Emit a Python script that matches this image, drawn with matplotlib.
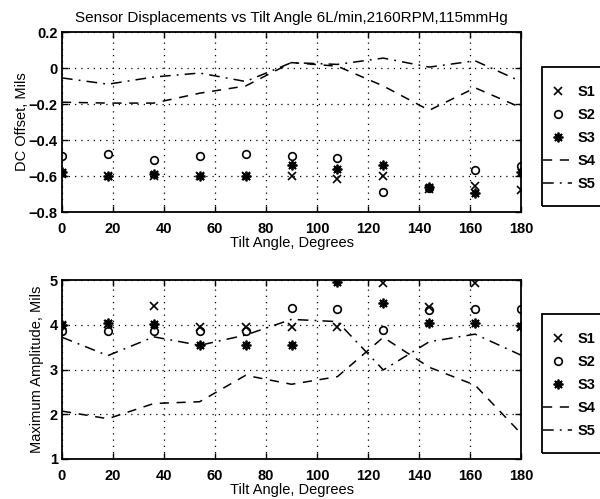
import matplotlib
matplotlib.use('Agg')
import matplotlib.pyplot as plt
from matplotlib.lines import Line2D
from matplotlib.patches import Rectangle

plt.rcParams['font.family'] = ['Liberation Sans', 'DejaVu Sans']

# tilt angles, degrees
angles = [0, 18, 36, 54, 72, 90, 108, 126, 144, 162, 180]

# DC offset, mils
dc_s1 = [-0.59, -0.60, -0.60, -0.60, -0.60, -0.60, -0.617, -0.598, -0.67, -0.655, -0.68]
dc_s2 = [-0.487, -0.48, -0.51, -0.49, -0.48, -0.49, -0.50, -0.687, -0.665, -0.565, -0.545]
dc_s3 = [-0.58, -0.60, -0.59, -0.60, -0.60, -0.54, -0.56, -0.537, -0.66, -0.695, -0.58]
dc_s4 = [-0.19, -0.195, -0.195, -0.14, -0.10, 0.03, 0.01, -0.10, -0.235, -0.11, -0.22]
dc_s5 = [-0.055, -0.09, -0.05, -0.028, -0.075, 0.03, 0.02, 0.055, 0.005, 0.04, -0.075]

# maximum amplitude, mils
amp_s1 = [4.0, 4.02, 4.43, 3.94, 3.95, 3.95, 3.95, 4.93, 4.4, 4.93, 3.95]
amp_s2 = [3.87, 3.87, 3.87, 3.86, 3.87, 4.37, 4.35, 3.88, 4.34, 4.35, 4.35]
amp_s3 = [4.0, 4.03, 4.02, 3.54, 3.54, 3.54, 4.96, 4.49, 4.03, 4.03, 3.97]
amp_s4 = [2.07, 1.9, 2.24, 2.28, 2.87, 2.67, 2.84, 3.72, 3.05, 2.65, 1.57]
amp_s5 = [3.72, 3.31, 3.73, 3.54, 3.77, 4.12, 4.07, 2.99, 3.62, 3.79, 3.32]

names = ['S1', 'S2', 'S3', 'S4', 'S5']
x_ticks = [0, 20, 40, 60, 80, 100, 120, 140, 160, 180]
dc_ticks = [-0.8, -0.6, -0.4, -0.2, 0, 0.2]
dc_labels = ['\u22120.8', '\u22120.6', '\u22120.4', '\u22120.2', '0', '0.2']
amp_ticks = [1, 2, 3, 4, 5]

W, H = 600, 499
FS = 10.5
fig = plt.figure(figsize=(W / 100, H / 100), dpi=100)

def box(l, t, r, b):
    return [l / W, 1 - b / H, (r - l) / W, (b - t) / H]

ax1 = fig.add_axes(box(62, 32, 521, 212))
ax2 = fig.add_axes(box(62, 280, 521, 459))

star = (8, 2, 0)
s4_dash = (6, 5)
s5_dash = (7, 4, 1.2, 4)

def draw(ax, s1, s2, s3, s4, s5):
    ax.plot(angles, s1, linestyle='none', marker='x', color='black', ms=5.5, mew=1.2)
    ax.plot(angles, s2, linestyle='none', marker='o', color='black', mfc='none', ms=5.5, mew=1.2)
    ax.plot(angles, s3, linestyle='none', marker=star, color='black', ms=7, mew=1.3)
    ax.plot(angles, s4, color='black', lw=1.1, dashes=s4_dash)
    ax.plot(angles, s5, color='black', lw=1.1, dashes=s5_dash)
    ax.set_xlim(0, 180)
    ax.set_xticks(x_ticks)
    ax.grid(True, color='black', linestyle=(0, (1, 4)), linewidth=0.9)
    ax.tick_params(direction='in', length=4, width=1, labelsize=FS, pad=7,
                   top=True, right=True)
    for lbl in ax.get_xticklabels() + ax.get_yticklabels():
        lbl.set_fontweight('bold')
    for sp in ax.spines.values():
        sp.set_linewidth(1.3)
    ax.set_xlabel('Tilt Angle, Degrees', fontsize=FS, labelpad=0)

draw(ax1, dc_s1, dc_s2, dc_s3, dc_s4, dc_s5)
ax1.set_ylim(-0.8, 0.2)
ax1.set_yticks(dc_ticks)
ax1.set_yticklabels(dc_labels, fontweight='bold')
ax1.tick_params(axis='y', pad=3)
ax1.set_ylabel('DC Offset, Mils', fontsize=FS, labelpad=0)
ax1.set_title('Sensor Displacements vs Tilt Angle 6L/min,2160RPM,115mmHg', fontsize=11, pad=7)

draw(ax2, amp_s1, amp_s2, amp_s3, amp_s4, amp_s5)
ax2.set_ylim(1, 5)
ax2.set_yticks(amp_ticks)
ax2.set_yticklabels([str(v) for v in amp_ticks], fontweight='bold')
ax2.tick_params(axis='y', pad=3)
ax2.set_ylabel('Maximum Amplitude, Mils', fontsize=FS, labelpad=4)

handles = [
    Line2D([], [], linestyle='none', marker='x', color='black', ms=5.5, mew=1.2),
    Line2D([], [], linestyle='none', marker='o', color='black', mfc='none', ms=5.5, mew=1.2),
    Line2D([], [], linestyle='none', marker=star, color='black', ms=7, mew=1.3),
    Line2D([], [], color='black', lw=1.1, dashes=s4_dash),
    Line2D([], [], color='black', lw=1.1, dashes=s5_dash),
]

# legend boxes run off the right edge of the figure, as in the original
for top, bottom in ((67, 206), (314, 453)):
    fig.patches.append(Rectangle((542 / W, 1 - bottom / H), 80 / W, (bottom - top) / H,
                                 transform=fig.transFigure, fill=False,
                                 edgecolor='black', linewidth=1.3))
    fig.legend(handles, names, loc='upper left',
               bbox_to_anchor=(543 / W, 1 - (top + 18) / H),
               frameon=False, prop={'size': FS, 'weight': 'bold'},
               handlelength=2.0, handletextpad=0.4, labelspacing=0.62,
               borderpad=0, borderaxespad=0)

fig.savefig('out.png', dpi=100)
